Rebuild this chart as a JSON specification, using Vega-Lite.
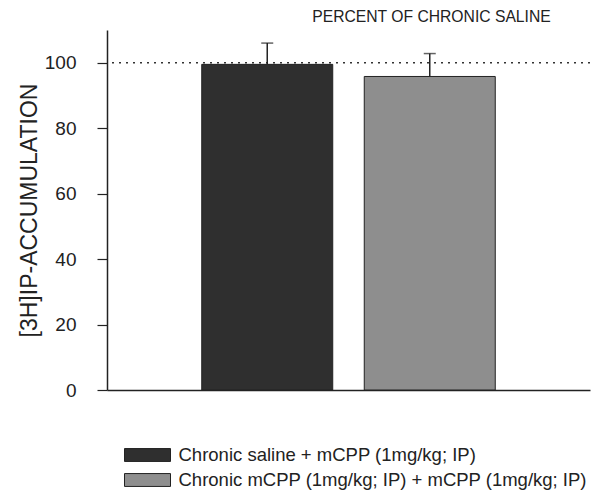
{
  "$schema": "https://vega.github.io/schema/vega-lite/v6.json",
  "width": 483,
  "height": 360,
  "autosize": {"type": "none"},
  "padding": {"left": 107, "top": 30, "right": 2, "bottom": 107},
  "background": "white",
  "config": {
    "font": "Liberation Sans",
    "view": {"stroke": null}
  },
  "title": {
    "text": "PERCENT OF CHRONIC SALINE",
    "anchor": "end",
    "dx": -40,
    "offset": 4,
    "fontSize": 15.7,
    "fontWeight": "normal",
    "color": "#222"
  },
  "data": {
    "values": [
      {"group": "Chronic saline + mCPP (1mg/kg; IP)", "value": 99.5, "upper": 106},
      {"group": "Chronic mCPP (1mg/kg; IP) + mCPP (1mg/kg; IP)", "value": 95.8, "upper": 102.8}
    ]
  },
  "encoding": {
    "x": {
      "field": "group",
      "type": "nominal",
      "sort": null,
      "scale": {"paddingInner": 0.194, "paddingOuter": 0.583},
      "axis": {"title": null, "labels": false, "ticks": false, "domainColor": "#222", "domainWidth": 1.5}
    }
  },
  "layer": [
    {
      "mark": {"type": "rule", "strokeDash": [2, 5], "color": "#333", "strokeWidth": 1.5},
      "data": {"values": [{"ref": 100}]},
      "encoding": {"y": {"field": "ref", "type": "quantitative"}, "x": null}
    },
    {
      "mark": {"type": "rule", "color": "#222", "strokeWidth": 1.5},
      "encoding": {
        "y": {"field": "value", "type": "quantitative"},
        "y2": {"field": "upper"}
      }
    },
    {
      "mark": {"type": "tick", "color": "#222", "size": 12, "thickness": 1.5},
      "encoding": {
        "y": {"field": "upper", "type": "quantitative"}
      }
    },
    {
      "mark": {"type": "bar", "stroke": "#222", "strokeWidth": 1},
      "encoding": {
        "y": {
          "field": "value",
          "type": "quantitative",
          "scale": {"domain": [0, 110], "nice": false},
          "axis": {
            "title": "[3H]IP-ACCUMULATION",
            "titleFontSize": 23,
            "titleFontWeight": "normal",
            "titleColor": "#222",
            "titlePadding": 3,
            "values": [0, 20, 40, 60, 80, 100],
            "labelFontSize": 19,
            "labelColor": "#222",
            "labelPadding": 21,
            "tickSize": 10,
            "tickColor": "#222",
            "domainColor": "#222",
            "domainWidth": 1.5,
            "tickWidth": 1.2,
            "grid": false
          }
        },
        "color": {
          "field": "group",
          "type": "nominal",
          "sort": null,
          "scale": {"range": ["#2f2f2f", "#8e8e8e"]},
          "legend": {
            "title": null,
            "orient": "none",
            "legendX": 28.5,
            "legendY": 413,
            "symbolType": "M-2,-0.56H2V0.56H-2Z",
            "symbolSize": 529,
            "symbolStrokeColor": "#222",
            "symbolStrokeWidth": 1,
            "symbolOpacity": 1,
            "labelFontSize": 18.5,
            "labelColor": "#222",
            "labelOffset": 19,
            "labelLimit": 600,
            "rowPadding": 3
          }
        }
      }
    }
  ]
}
